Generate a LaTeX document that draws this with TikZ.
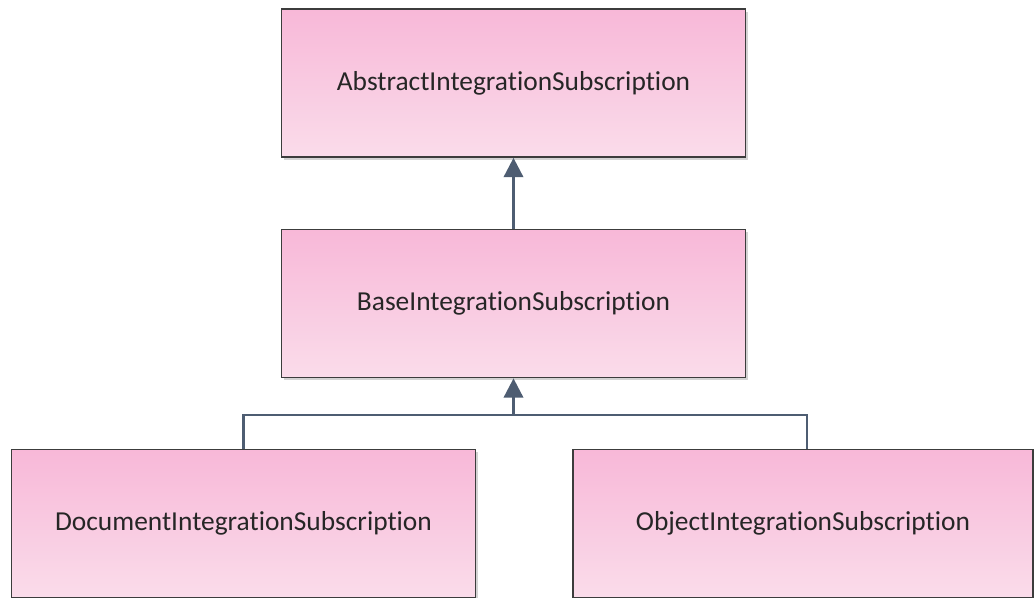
\documentclass[tikz,border=0pt]{standalone}
\usepackage{fontspec}
\setmainfont{Carlito}[Ligatures={NoCommon}]
\usetikzlibrary{arrows.meta,shadows}
\definecolor{pinktop}{HTML}{F8B8D8}
\definecolor{pinkbot}{HTML}{FADCEA}
\definecolor{boxline}{HTML}{3C3C3C}
\definecolor{linkcol}{HTML}{4E5D72}
\tikzset{
    classbox/.style={draw=boxline, line width=1pt, top color=pinktop, bottom color=pinkbot,
        minimum width=9.28cm, minimum height=2.96cm, inner sep=0pt,
        font=\fontsize{15.6}{18}\selectfont, text=black!85,
        drop shadow={shadow xshift=1.6pt, shadow yshift=-1.6pt, opacity=0.35, fill=gray}},
    link/.style={draw=linkcol, line width=1.6pt},
    inherit/.style={link, -{Triangle[width=11pt,length=11pt]}}
}
\begin{document}
\begin{tikzpicture}[x=0.02cm, y=-0.02cm]
    \useasboundingbox (0,0) rectangle (1034,598);
    % classes
    \node[classbox] (abstract) at (513.5,83) {AbstractIntegrationSubscription};
    \node[classbox] (base) at (513.5,303.5) {BaseIntegrationSubscription};
    \node[classbox] (document) at (243.5,523.5) {DocumentIntegrationSubscription};
    \node[classbox, minimum width=9.2cm] (object) at (803,523.5) {ObjectIntegrationSubscription};
    % generalisation
    \coordinate (merge) at (513.5,415);
    \draw[inherit] (base.north) -- (abstract.south);
    \draw[link] (document.north) |- (merge) -| ([xshift=0.8mm]object.north);
    \draw[inherit] (merge) -- (base.south);
\end{tikzpicture}
\end{document}
